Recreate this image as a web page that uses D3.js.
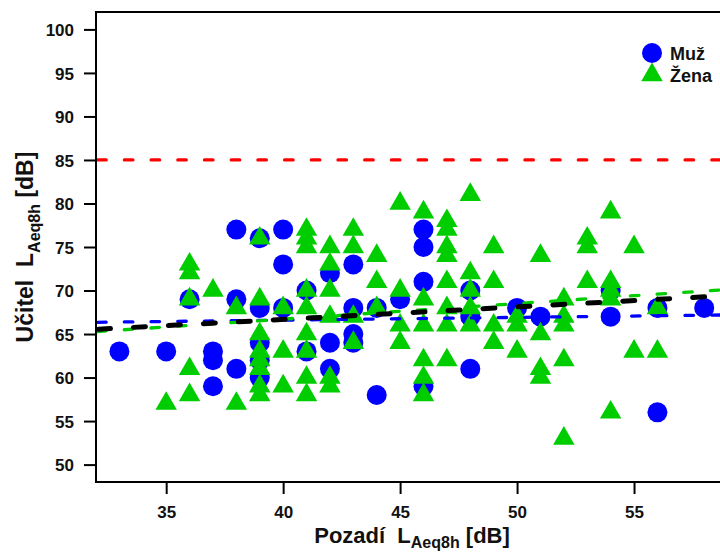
<!DOCTYPE html>
<html>
<head>
<meta charset="utf-8">
<script src="https://cdn.jsdelivr.net/npm/d3@7"></script>
<style>
  body { margin: 0; background: #fff; }
  svg { display: block; font-family: "Liberation Sans", Arial, Helvetica, sans-serif; font-weight: bold; }
  .axis-title { white-space: pre; }
</style>
</head>
<body>
<div id="chart"></div>
<script>
// ---------------------------------------------------------------------------
// Data (background vs teacher noise exposure, dB)
// ---------------------------------------------------------------------------
const muzBackground = [33, 35, 36, 37, 37, 37, 38, 38, 38, 39, 39, 39, 39, 39, 40, 40, 40, 41, 41,
    42, 42, 42, 43, 43, 43, 43, 44, 44, 45, 46, 46, 46, 46, 48, 48, 48, 50, 51, 54, 54, 56, 56, 58];
const muzTeacher = [63, 63, 69, 63, 62, 59, 77, 69, 61, 76, 68, 64, 62, 60, 77, 73, 68, 70, 63,
    72, 64, 61, 73, 68, 65, 64, 68, 58, 69, 77, 75, 71, 59, 70, 67, 61, 68, 67, 70, 67, 68, 56, 68];

const zenaBackground = [35,
    36, 36, 36, 36, 36,
    37,
    38, 38,
    39, 39, 39, 39, 39, 39, 39, 39,
    40, 40, 40,
    41, 41, 41, 41, 41, 41, 41, 41, 41,
    42, 42, 42, 42, 42, 42,
    43, 43, 43, 43,
    44, 44, 44,
    45, 45, 45, 45,
    46, 46, 46, 46, 46, 46,
    47, 47, 47, 47, 47, 47, 47, 47,
    48, 48, 48, 48, 48,
    49, 49, 49, 49,
    50, 50, 50,
    51, 51, 51, 51,
    52, 52, 52, 52, 52,
    53, 53, 53,
    54, 54, 54, 54, 54,
    55, 55,
    56, 56];
const zenaTeacher = [57,
    73, 72, 69, 61, 58,
    70,
    68, 57,
    76, 69, 65, 63, 62, 61, 59, 58,
    68, 63, 59,
    77, 76, 75, 70, 68, 65, 63, 60, 58,
    75, 73, 70, 67, 60, 59,
    77, 75, 67, 64,
    74, 71, 68,
    80, 70, 66, 64,
    79, 69, 66, 62, 60, 58,
    78, 77, 75, 74, 71, 68, 66, 62,
    81, 72, 70, 68, 66,
    75, 71, 66, 64,
    67, 66, 63,
    74, 65, 61, 60,
    69, 67, 66, 62, 53,
    76, 75, 71,
    79, 71, 70, 69, 56,
    75, 63,
    68, 63];

// fitted lines: [intercept, slope]
const fitNames = ['Muž', 'Žena', 'Vše'];
const fitCoef = [[65.34, 0.0315], [59.53, 0.1795], [60.94, 0.1436]];
const limitLevel = 85;

const xTicks = [35, 40, 45, 50, 55];
const yTicks = [50, 55, 60, 65, 70, 75, 80, 85, 90, 95, 100];
const legendLabels = ['Muž', 'Žena'];

// ---------------------------------------------------------------------------
const width = 720, height = 552;
const margin = { top: 12, left: 96, bottom: 70 };
const plotRight = 727.6;   // plot box runs past the picture edge

const COLORS = { muz: '#0000ff', zena: '#00cd00', limit: '#ff0000', all: '#000000' };

const svg = d3.select('#chart').append('svg')
    .attr('width', width)
    .attr('height', height);

const x = d3.scaleLinear().domain([32, 59]).range([margin.left, plotRight]);
const y = d3.scaleLinear().domain([48, 102]).range([height - margin.bottom, margin.top]);

svg.append('defs').append('clipPath').attr('id', 'plot-clip')
    .append('rect')
    .attr('x', margin.left).attr('y', margin.top)
    .attr('width', plotRight - margin.left)
    .attr('height', height - margin.bottom - margin.top);

const plot = svg.append('g').attr('clip-path', 'url(#plot-clip)');

// Points - circles first, triangles over them
const muz = muzBackground.map((b, i) => ({ b, t: muzTeacher[i] }));
const zena = zenaBackground.map((b, i) => ({ b, t: zenaTeacher[i] }));

plot.selectAll('.muz')
    .data(muz)
    .join('circle')
    .attr('cx', d => x(d.b))
    .attr('cy', d => y(d.t))
    .attr('r', 10)
    .attr('fill', COLORS.muz);

const tri = d3.symbol(d3.symbolTriangle, 200);
plot.selectAll('.zena')
    .data(zena)
    .join('path')
    .attr('transform', d => `translate(${x(d.b)},${y(d.t)})`)
    .attr('d', tri)
    .attr('fill', COLORS.zena);

// Lines
const lineStyles = [
    { color: COLORS.muz, w: 3.3, dash: '8.5,18.2' },
    { color: COLORS.zena, w: 3.3, dash: '8.5,18.2' },
    { color: COLORS.all, w: 5, dash: '12,23' }
];
const xd = x.domain();

plot.append('line')
    .attr('x1', x(xd[0])).attr('x2', x(xd[1]))
    .attr('y1', y(limitLevel)).attr('y2', y(limitLevel))
    .attr('stroke', COLORS.limit)
    .attr('stroke-width', 3.3)
    .attr('stroke-dasharray', '8.5,18.2')
    .attr('stroke-dashoffset', -1.7)
    .attr('stroke-linecap', 'round');

fitCoef.forEach((c, i) => {
    const st = lineStyles[i];
    plot.append('line')
        .attr('class', 'fit-' + fitNames[i])
        .attr('x1', x(xd[0])).attr('x2', x(xd[1]))
        .attr('y1', y(c[0] + c[1] * xd[0])).attr('y2', y(c[0] + c[1] * xd[1]))
        .attr('stroke', st.color)
        .attr('stroke-width', st.w)
        .attr('stroke-dasharray', st.dash)
        .attr('stroke-dashoffset', -st.w / 2)
        .attr('stroke-linecap', 'round');
});

// Box
svg.append('rect')
    .attr('x', margin.left).attr('y', margin.top)
    .attr('width', plotRight - margin.left)
    .attr('height', height - margin.bottom - margin.top)
    .attr('fill', 'none')
    .attr('stroke', '#000')
    .attr('stroke-width', 2);

// Axes
const yAxis = svg.append('g')
    .attr('transform', `translate(${margin.left},0)`)
    .call(d3.axisLeft(y).tickValues(yTicks).tickSize(12).tickPadding(10));
const xAxis = svg.append('g')
    .attr('transform', `translate(0,${height - margin.bottom})`)
    .call(d3.axisBottom(x).tickValues(xTicks).tickSize(12).tickPadding(12));

[xAxis, yAxis].forEach(a => {
    a.select('.domain').remove();
    a.selectAll('.tick line').attr('stroke', '#000').attr('stroke-width', 2);
    a.selectAll('.tick text')
        .attr('fill', '#111')
        .style('font-size', '17px')
        .style('font-weight', 'bold')
        .style('font-family', '"Liberation Sans", Arial, sans-serif');
});
yAxis.selectAll('.tick text').attr('dy', '0.36em');

// Axis titles
const xTitle = svg.append('text')
    .attr('class', 'axis-title')
    .attr('x', 412)
    .attr('y', 543)
    .attr('text-anchor', 'middle')
    .style('font-size', '22px')
    .attr('fill', '#111');
xTitle.append('tspan').text('Pozadí  L');
xTitle.append('tspan').attr('dy', 5).style('font-size', '16px').text('Aeq8h');
xTitle.append('tspan').attr('dy', -5).text(' [dB]');

const yTitle = svg.append('text')
    .attr('class', 'axis-title')
    .attr('transform', `translate(33,${(margin.top + height - margin.bottom) / 2}) rotate(-90)`)
    .attr('text-anchor', 'middle')
    .style('font-size', '23px')
    .attr('fill', '#111');
yTitle.append('tspan').text('Učitel  L');
yTitle.append('tspan').attr('dy', 7).style('font-size', '16px').text('Aeq8h');
yTitle.append('tspan').attr('dy', -7).text(' [dB]');

// Legend
const legend = svg.append('g').attr('transform', 'translate(652,53)');
legend.append('circle').attr('cx', 0).attr('cy', 0).attr('r', 10).attr('fill', COLORS.muz);
legend.append('path').attr('transform', 'translate(0,22)').attr('d', tri).attr('fill', COLORS.zena);
legend.selectAll('.legend-label')
    .data(legendLabels)
    .join('text')
    .attr('x', 18)
    .attr('y', (d, i) => i * 22 + 6.5)
    .style('font-size', '18px')
    .attr('fill', '#111')
    .text(d => d);
</script>
</body>
</html>
